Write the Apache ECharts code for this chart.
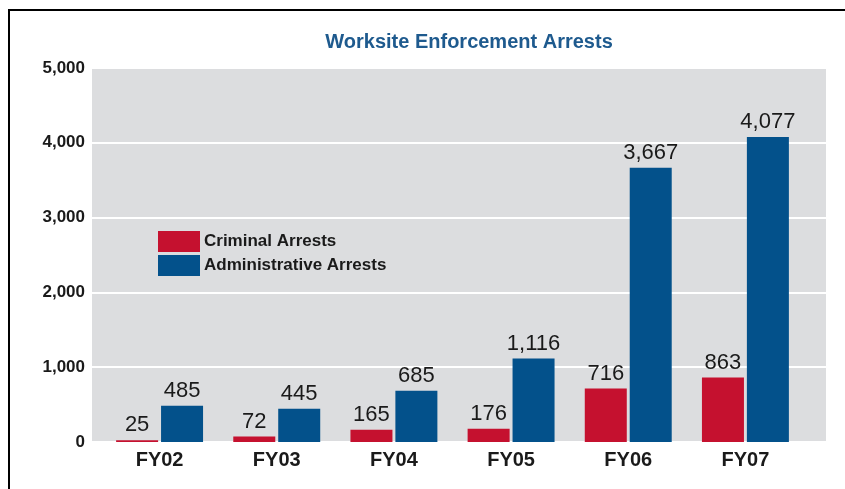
<!DOCTYPE html>
<html>
<head>
<meta charset="utf-8">
<script src="https://cdn.jsdelivr.net/npm/echarts@6/dist/echarts.min.js"></script>
<style>
  html, body { margin: 0; padding: 0; background: #fff; }
  #chart { width: 845px; height: 489px; }
</style>
</head>
<body>
<div id="chart"></div>
<script>
// 数据
var years = ['FY02', 'FY03', 'FY04', 'FY05', 'FY06', 'FY07'];
var criminal = [25, 72, 165, 176, 716, 863];
var administrative = [485, 445, 685, 1116, 3667, 4077];
var yTicks = [0, 1000, 2000, 3000, 4000, 5000];

var FONT = '"Liberation Sans", Arial, sans-serif';
var RED = '#c5112f';
var BLUE = '#03518b';

var chart = echarts.init(document.getElementById('chart'));

function fmt(v) {
    return Number(v).toLocaleString('en-US');
}

var option = {
    backgroundColor: '#FFFFFF',
    animation: false,
    title: {
        text: 'Worksite Enforcement Arrests',
        left: 464,
        top: 27,
        textAlign: 'center',
        textStyle: { fontFamily: FONT, fontSize: 20, fontWeight: 'bold', color: '#1e5a8e' }
    },
    legend: {
        orient: 'vertical',
        left: 158,
        top: 231,
        padding: 0,
        itemWidth: 42,
        itemHeight: 21,
        itemGap: 3,
        icon: 'rect',
        textStyle: { fontFamily: FONT, fontSize: 17, fontWeight: 'bold', color: '#1a1a1a', padding: [0, 0, 0, -1] },
        data: ['Criminal Arrests', 'Administrative Arrests']
    },
    graphic: [{
        type: 'polyline',
        shape: { points: [[9, 489], [9, 10], [845, 10]] },
        style: { stroke: '#000', lineWidth: 2, fill: null },
        silent: true
    }],
    grid: [
        // 灰色背景 + 网格线
        { left: 92, top: 68, width: 734, height: 374, show: true, backgroundColor: '#dcdddf', borderWidth: 0 },
        // 柱子
        { left: 101, top: 68, width: 703, height: 374 }
    ],
    xAxis: [
        { gridIndex: 0, type: 'category', data: [''], show: false },
        {
            gridIndex: 1,
            type: 'category',
            data: years,
            axisLine: { show: false },
            axisTick: { show: false },
            axisLabel: { fontFamily: FONT, fontSize: 20, fontWeight: 'bold', color: '#1a1a1a', margin: 8 }
        }
    ],
    yAxis: [
        {
            gridIndex: 0,
            type: 'value',
            min: yTicks[0],
            max: yTicks[yTicks.length - 1],
            interval: yTicks[1] - yTicks[0],
            axisLine: { show: false },
            axisTick: { show: false },
            splitLine: { lineStyle: { color: '#ffffff', width: 2 } },
            axisLabel: {
                fontFamily: FONT, fontSize: 17, fontWeight: 'bold', color: '#1a1a1a', margin: 7,
                formatter: fmt
            }
        },
        { gridIndex: 1, type: 'value', min: 0, max: 5000, show: false }
    ],
    series: [{
        name: 'Criminal Arrests',
        type: 'bar',
        xAxisIndex: 1,
        yAxisIndex: 1,
        data: criminal,
        barWidth: 42,
        barGap: '7%',
        itemStyle: { color: RED },
        label: {
            show: true, position: 'top', distance: 4,
            fontFamily: FONT, fontSize: 22, color: '#1a1a1a',
            formatter: function (p) { return fmt(p.value); }
        }
    }, {
        name: 'Administrative Arrests',
        type: 'bar',
        xAxisIndex: 1,
        yAxisIndex: 1,
        data: administrative,
        barWidth: 42,
        barGap: '7%',
        itemStyle: { color: BLUE },
        label: {
            show: true, position: 'top', distance: 4,
            fontFamily: FONT, fontSize: 22, color: '#1a1a1a',
            formatter: function (p) { return fmt(p.value); }
        }
    }]
};

chart.setOption(option);
</script>
</body>
</html>
